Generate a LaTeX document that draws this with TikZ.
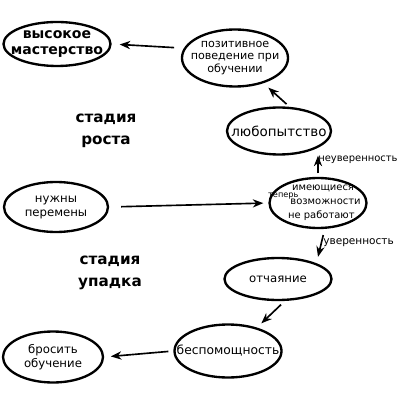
\documentclass[tikz,border=0pt]{standalone}
\usepackage{fontspec}
\setmainfont{DejaVu Sans}
\usetikzlibrary{shapes.geometric,arrows.meta}

\begin{document}
\begin{tikzpicture}[x=0.03cm,y=-0.03cm]
  % Styles
  \tikzset{
    etat/.style={draw=black, ellipse, line width=2pt, inner xsep=-12pt, inner ysep=-5pt,
      align=center, font=\fontsize{10}{12}\selectfont},
    fleche/.style={-{Stealth[length=9pt,width=7pt]}, line width=1.4pt},
    etiq/.style={font=\fontsize{9}{11}\selectfont, inner sep=1pt},
    stade/.style={font=\bfseries\fontsize{13}{19}\selectfont, align=center},
  }

  % Cadre
  \useasboundingbox (0,0) rectangle (403,402);

  % Etats
  \node[etat, minimum width=3.21cm, minimum height=1.32cm, font=\bfseries\fontsize{12}{13}\selectfont]
    (haut) at (57,44) {высокое\\мастерство};
  \node[etat, minimum width=3.18cm, minimum height=1.71cm, font=\fontsize{9.5}{11}\selectfont]
    (positif) at (235,58) {позитивное\\поведение при\\обучении};
  \node[etat, minimum width=3.12cm, minimum height=1.41cm, font=\fontsize{11.5}{12}\selectfont]
    (curieux) at (279,131) {любопытство};
  \node[etat, minimum width=3.12cm, minimum height=1.5cm]
    (changer) at (56,207) {нужны\\перемены};
  \node[etat, minimum width=2.91cm, minimum height=1.5cm, font=\fontsize{8.5}{12}\selectfont]
    (moyens) at (318,203) {\hspace*{0.3cm}имеющиеся\\\hspace*{0.45cm}возможности\\\hspace*{0.2cm}не работают};
  \node[font=\fontsize{7}{8}\selectfont, inner sep=0pt]
    (maintenant) at ([xshift=-1.04cm,yshift=0.2cm]moyens.center) {теперь};
  \node[etat, minimum width=3.21cm, minimum height=1.26cm]
    (desespoir) at (278,279) {отчаяние};
  \node[etat, minimum width=3.21cm, minimum height=1.59cm, font=\fontsize{10.5}{12}\selectfont]
    (impuiss) at (228,351) {беспомощность};
  \node[etat, minimum width=3.0cm, minimum height=1.53cm]
    (abandon) at (53,357) {бросить\\обучение};

  % Stades
  \node[stade] (croissance) at (106,131) {стадия\\роста};
  \node[stade] (declin) at (110,273) {стадия\\упадка};

  % Fleches
  \draw[fleche, shorten <=0.2cm, shorten >=0.24cm] ([yshift=0.3cm]positif.west) -- (haut.east);
  \draw[fleche, shorten <=0.1cm] ([xshift=0.3cm]curieux.north) -- ([xshift=1cm]positif.south);
  \draw[fleche, shorten <=0.1cm] (moyens.north) -- (moyens.north |- curieux.south)
    node[etiq, midway, right, xshift=-0.05cm, yshift=0.2cm, font=\fontsize{8.5}{10}\selectfont] (doute) {неуверенность};
  \draw[fleche, shorten <=0.18cm] ([xshift=0.2cm]moyens.south) -- ([xshift=1.2cm]desespoir.north)
    node[etiq, midway, right] (confiance) {уверенность};
  \draw[fleche, shorten <=0.36cm, shorten >=0.15cm] (changer.east) -- (moyens.west);
  \draw[fleche, shorten <=0.15cm] ([xshift=0.2cm]desespoir.south) -- ([xshift=1cm]impuiss.north);
  \draw[fleche, shorten <=0.15cm, shorten >=0.2cm] (impuiss.west) -- (abandon.east);

\end{tikzpicture}
\end{document}
